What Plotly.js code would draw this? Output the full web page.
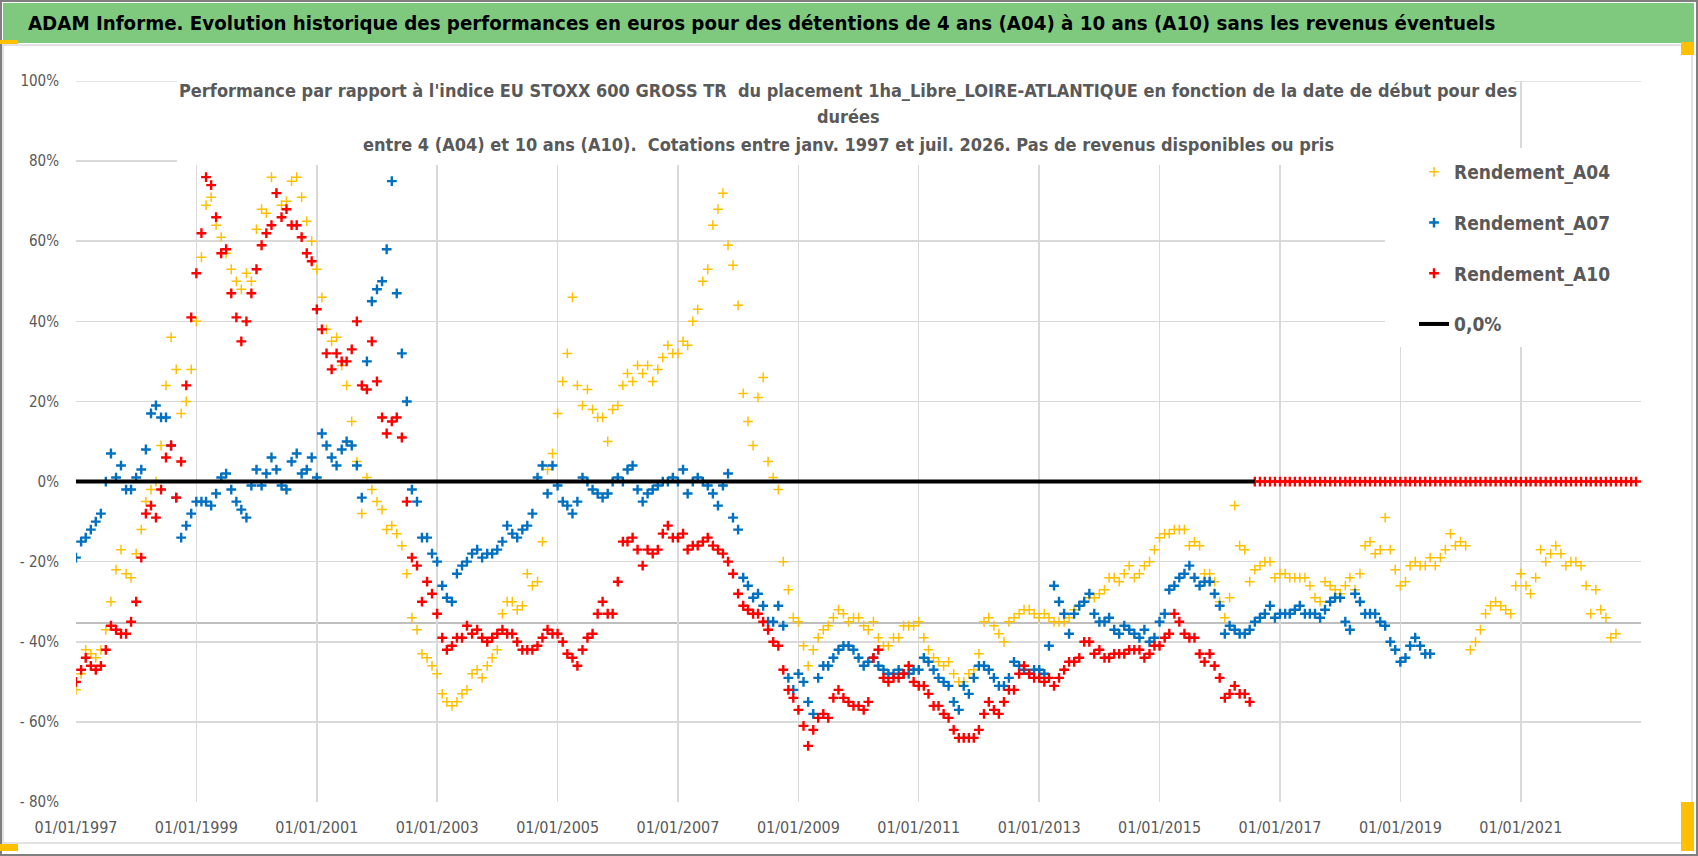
<!DOCTYPE html>
<html>
<head>
<meta charset="utf-8">
<script src="https://cdn.plot.ly/plotly-3.0.1.min.js"></script>
<style>
  html, body { margin: 0; padding: 0; background: #fff; }
  #chart { width: 1698px; height: 856px; }
</style>
</head>
<body>
<div id="chart"></div>
<script>
// monthly readings, first value = January 1997 (percent vs EU STOXX 600 GROSS TR)
const firstYear = 1997;

const a04Values = [
  -52, -48, -42, -43, -44, -42, -37, -30, -22, -17, -23, -24,
  -18, -12, -5, -2, 0, 9, 24, 36, 28, 17, 20, 28,
  40, 56, 69, 71, 64, 61, 57, 53, 50, 48, 52, 50,
  63, 68, 67, 76, 72, 69, 70, 75, 76, 71, 65, 60,
  53, 46, 38, 35, 36, 29, 24, 15, 5, -8, 1, -2,
  -5, -7, -12, -11, -13, -16, -23, -34, -37, -43, -44, -46,
  -48, -53, -55, -56, -55, -53, -52, -48, -47, -49, -46, -44,
  -42, -33, -30, -30, -32, -31, -23, -26, -25, -15, 3, 7,
  17, 25, 32, 46, 24, 19, 23, 18, 16, 16, 10, 18,
  19, 24, 27, 25, 29, 27, 29, 25, 28, 31, 34, 32,
  32, 35, 34, 40, 43, 50, 53, 64, 68, 72, 59, 54,
  44, 22, 15, 9, 21, 26, 5, 1, -2, -20, -27, -34,
  -35, -41, -46, -42, -39, -37, -36, -34, -32, -33, -35, -34,
  -34, -36, -37, -35, -39, -41, -41, -39, -39, -36, -36, -36,
  -35, -39, -42, -44, -45, -46, -45, -48, -50, -50, -48, -47,
  -43, -35, -34, -36, -38, -40, -35, -34, -33, -32, -32, -33,
  -34, -33, -34, -35, -35, -35, -34, -32, -31, -30, -29, -29,
  -28, -27, -24, -24, -25, -23, -21, -24, -23, -21, -20, -17,
  -14, -13, -13, -12, -12, -12, -16, -15, -16, -23, -23, -25,
  -30, -34, -29, -6, -16, -17, -25, -22, -21, -20, -20, -24,
  -23, -23, -24, -24, -24, -24, -26, -29, -30, -25, -26, -27,
  -28, -26, -24, -27, -23, -16, -15, -18, -17, -9, -17, -22,
  -26, -25, -21, -20, -21, -21, -19, -21, -19, -17, -13, -16,
  -15, -16, -42, -40, -37, -33, -31, -30, -31, -32, -33, -26,
  -23, -26, -28, -24, -17, -20, -18, -16, -18, -21, -20, -20,
  -21, -26, -33, -27, -32, -34, -39, -38
];

const a07Values = [
  -19, -15, -14, -12, -10, -8, 0, 7, 1, 4, -2, -2,
  1, 3, 8, 17, 19, 16, 16, 9, -4, -14, -11, -8,
  -5, -5, -5, -6, -3, 1, 2, -2, -5, -7, -9, -1,
  3, -1, 2, 6, 3, -1, -2, 5, 7, 2, 3, 6,
  1, 12, 9, 6, 4, 8, 10, 9, 4, -4, 30, 45,
  48, 50, 58, 75, 47, 32, 20, -2, -5, -14, -14, -18,
  -20, -26, -29, -30, -23, -21, -20, -18, -17, -19, -18, -18,
  -17, -15, -11, -13, -14, -12, -11, -8, 1, 4, -3, 4,
  -1, -5, -6, -8, -5, 1, 0, -2, -3, -4, -3, 0,
  1, 0, 3, 4, -2, -5, -3, -2, -1, 0, 0, 1,
  0, 3, -3, 0, 1, 0, -1, -3, -6, -1, 2, -9,
  -12, -24, -26, -29, -28, -31, -35, -35, -31, -36, -49, -52,
  -48, -50, -55, -58, -49, -46, -46, -44, -42, -41, -41, -42,
  -44, -46, -45, -44, -46, -47, -48, -48, -47, -48, -48, -47,
  -47, -44, -45, -47, -49, -50, -51, -55, -57, -51, -53, -49,
  -46, -46, -47, -49, -51, -51, -49, -45, -46, -47, -48, -47,
  -47, -48, -41, -26, -30, -33, -38, -33, -31, -30, -28, -33,
  -35, -35, -34, -37, -38, -36, -37, -38, -39, -37, -40, -39,
  -35, -33, -27, -26, -24, -23, -21, -24, -26, -25, -25, -28,
  -31, -38, -36, -37, -38, -38, -37, -35, -34, -33, -31, -34,
  -33, -33, -33, -32, -31, -33, -33, -33, -34, -32, -30, -29,
  -29, -35, -37, -28, -30, -33, -33, -33, -35, -36, -40, -42,
  -45, -44, -41, -39, -41, -43, -43
];

const a10Values = [
  -50, -47, -44, -46, -47, -46, -42, -36, -37, -38, -38, -35,
  -30, -19, -8, -6, -9, -2, 6, 9, -4, 5, 24, 41,
  52, 62, 76, 74, 66, 57, 58, 47, 41, 35, 40, 47,
  53, 59, 62, 64, 72, 66, 68, 64, 64, 61, 57, 55,
  43, 38, 32, 28, 32, 30, 30, 33, 40, 24, 23, 35,
  25, 16, 12, 15, 16, 11, -5, -19, -21, -30, -25, -28,
  -33, -39, -42, -41, -39, -39, -36, -38, -37, -39, -40, -39,
  -38, -37, -38, -38, -40, -42, -42, -42, -41, -39, -37, -38,
  -38, -40, -43, -44, -46, -42, -39, -38, -33, -30, -33, -33,
  -25, -15, -15, -14, -17, -21, -17, -18, -17, -13, -11, -14,
  -14, -13, -17, -16, -16, -15, -14, -16, -17, -18, -20, -23,
  -28, -31, -32, -33, -33, -35, -37, -40, -41, -47, -52, -54,
  -57, -61, -66, -62, -59, -58, -59, -54, -52, -54, -55, -56,
  -56, -57, -55, -44, -42, -49, -50, -49, -49, -48, -46, -50,
  -51, -51, -53, -56, -56, -58, -59, -62, -64, -64, -64, -64,
  -62, -58, -55, -57, -58, -55, -52, -52, -48, -46, -48, -49,
  -49, -50, -49, -51, -49, -47, -45, -45, -44, -40, -40, -43,
  -42, -44, -44, -43, -43, -43, -42, -42, -42, -44, -43, -41,
  -41, -39, -38, -33, -35, -38, -39, -39, -43, -45, -43, -46,
  -49, -54, -53, -51, -53, -53, -55, 0, 0, 0, 0, 0,
  0, 0, 0, 0, 0, 0, 0, 0, 0, 0, 0, 0,
  0, 0, 0, 0, 0, 0, 0, 0, 0, 0, 0, 0,
  0, 0, 0, 0, 0, 0, 0, 0, 0, 0, 0, 0,
  0, 0, 0, 0, 0, 0, 0, 0, 0, 0, 0, 0,
  0, 0, 0, 0, 0, 0, 0, 0, 0, 0, 0, 0,
  0, 0, 0, 0, 0, 0, 0, 0, 0, 0, 0, 0
];

const zeroLineDates = ['1997-01-01', '2016-08-01'];
const zeroLineValues = [0, 0];

const referenceLevel = -35.3;

const yTickVals = [-80, -60, -40, -20, 0, 20, 40, 60, 80, 100];
const yTickText = ['- 80%', '- 60%', '- 40%', '- 20%', '0%', '20%', '40%', '60%', '80%', '100%'];

const headerText = 'ADAM Informe. Evolution historique des performances en euros pour des détentions de 4 ans (A04) à 10 ans (A10) sans les revenus éventuels';
const titleLines = [
  "Performance par rapport à l'indice EU STOXX 600 GROSS TR  du placement 1ha_Libre_LOIRE-ATLANTIQUE en fonction de la date de début pour des",
  'durées',
  'entre 4 (A04) et 10 ans (A10).  Cotations entre janv. 1997 et juil. 2026. Pas de revenus disponibles ou pris'
];

function monthDates(count) {
  const out = [];
  for (let i = 0; i < count; i++) {
    const d = new Date(Date.UTC(firstYear, i, 1));
    out.push(d.toISOString().slice(0, 10));
  }
  return out;
}

// page geometry in pixels -> paper coordinates
const W = 1698, H = 856;
const M = { l: 76, r: 57, t: 81, b: 54 };
const PW = W - M.l - M.r, PH = H - M.t - M.b;
const px = x => (x - M.l) / PW;
const py = y => 1 - (y - M.t) / PH;

const FONT = '"DejaVu Sans Condensed", "DejaVu Sans", sans-serif';
const GREY = '#595959';
const GRID = '#d9d9d9';

function crossTrace(name, values, color, lineWidth, group) {
  return {
    name: name,
    x: monthDates(values.length),
    y: values,
    type: 'scatter',
    mode: 'markers',
    legendgroup: group,
    marker: { symbol: 'cross-thin', size: 7, line: { color: color, width: lineWidth } }
  };
}

const data = [
  crossTrace('Rendement_A04', a04Values, '#FFC000', 1.5, 'a04'),
  crossTrace('Rendement_A07', a07Values, '#0070C0', 2.4, 'a07'),
  crossTrace('Rendement_A10', a10Values, '#FF0000', 2.4, 'a10'),
  {
    name: '0,0%',
    x: zeroLineDates,
    y: zeroLineValues,
    type: 'scatter',
    mode: 'lines',
    legendgroup: 'zero',
    line: { color: '#000000', width: 4 }
  }
];

function pxRect(x0, y0, x1, y1, style) {
  return Object.assign({
    type: 'rect', xref: 'paper', yref: 'paper',
    x0: px(x0), x1: px(x1), y0: py(y0), y1: py(y1)
  }, style);
}

const titleY = [90, 117, 145];
const WHITE_BOX = { fillcolor: '#ffffff', line: { width: 0 }, layer: 'above' };

const layout = {
  width: W,
  height: H,
  margin: M,
  paper_bgcolor: '#ffffff',
  plot_bgcolor: '#ffffff',
  showlegend: true,
  hovermode: false,
  font: { family: FONT, color: GREY },
  xaxis: {
    type: 'date',
    range: ['1997-01-01', '2022-12-31'],
    tick0: '1997-01-01',
    dtick: 'M24',
    tickformat: '%d/%m/%Y',
    showgrid: true,
    gridcolor: GRID,
    gridwidth: 1.5,
    zeroline: false,
    showline: false,
    ticks: '',
    ticklabelstandoff: 14,
    tickfont: { family: FONT, size: 16, color: GREY }
  },
  yaxis: {
    range: [-80, 100],
    tickvals: yTickVals,
    ticktext: yTickText,
    showgrid: true,
    gridcolor: GRID,
    gridwidth: 1.5,
    zeroline: false,
    showline: false,
    ticks: '',
    ticklabelstandoff: 16,
    tickfont: { family: FONT, size: 15, color: GREY }
  },
  legend: {
    x: px(1414),
    y: py(153),
    xanchor: 'left',
    yanchor: 'top',
    bgcolor: '#ffffff',
    borderwidth: 0,
    tracegroupgap: 23,
    itemwidth: 30,
    font: { family: FONT, size: 19, color: GREY, weight: 'bold' }
  },
  shapes: [
    // outer frame and header band
    pxRect(1, 1, W - 1, H - 1, { line: { color: '#7f7f7f', width: 2 }, layer: 'below' }),
    pxRect(3, 3, W - 4, 43, { fillcolor: '#7fc97f', line: { width: 0 }, layer: 'below' }),
    pxRect(3, 45, 1692, 843, { line: { color: GRID, width: 1.5 }, layer: 'below' }),
    // top grid line (at the range edge) and horizontal reference line
    {
      type: 'line', xref: 'paper', yref: 'y',
      x0: 0, x1: 1, y0: 100, y1: 100,
      line: { color: GRID, width: 1.5 }, layer: 'below'
    },
    {
      type: 'line', xref: 'paper', yref: 'y',
      x0: 0, x1: 1, y0: referenceLevel, y1: referenceLevel,
      line: { color: '#bfbfbf', width: 2 }, layer: 'below'
    },
    // white boxes behind the chart title and the legend (they hide the grid)
    pxRect(177, 76, 1514, 165, WHITE_BOX),
    pxRect(1385, 148, 1641, 347, WHITE_BOX),
    // selection handles
    pxRect(0, 40, 18, 44, { fillcolor: '#FFC000', line: { width: 0 } }),
    pxRect(0, 844, 18, 851, { fillcolor: '#FFC000', line: { width: 0 } }),
    pxRect(1681, 42, 1694, 55, { fillcolor: '#FFC000', line: { width: 0 } }),
    pxRect(1681, 802, 1694, 851, { fillcolor: '#FFC000', line: { width: 0 } })
  ],
  annotations: [
    {
      xref: 'paper', yref: 'paper',
      x: px(26), y: py(23), xanchor: 'left', yanchor: 'middle',
      text: headerText, showarrow: false,
      font: { family: FONT, size: 20.3, color: '#000000', weight: 'bold' }
    }
  ].concat(titleLines.map((line, i) => ({
    xref: 'paper', yref: 'paper',
    x: px(848), y: py(titleY[i]), xanchor: 'center', yanchor: 'middle',
    text: line, showarrow: false,
    font: { family: FONT, size: 18, color: GREY, weight: 'bold' }
  })))
};

Plotly.newPlot('chart', data, layout, { displayModeBar: false, staticPlot: true });
</script>
</body>
</html>
